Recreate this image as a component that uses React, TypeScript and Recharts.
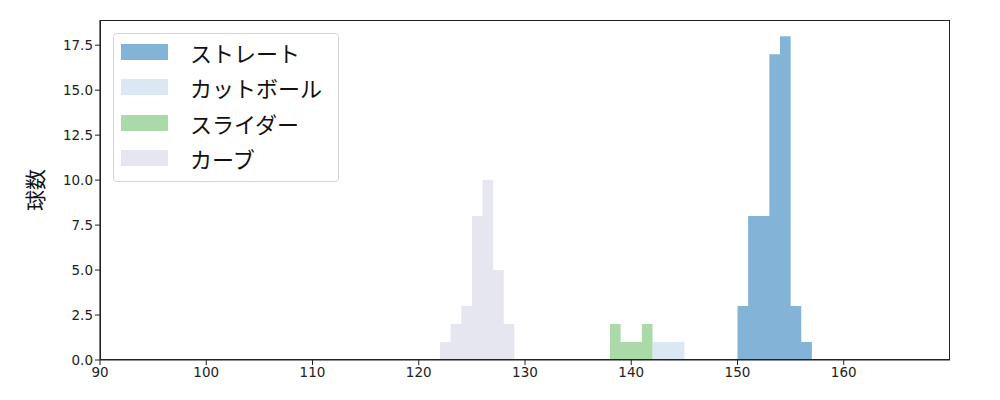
import { ComposedChart, Area, XAxis, YAxis, Legend } from 'recharts';

// bin edges (km/h) and pitch counts per bin
const straightBins = [150, 151, 152, 153, 154, 155, 156, 157];
const straightCounts = [3, 8, 8, 17, 18, 3, 1];

const cutterBins = [142, 143, 144, 145];
const cutterCounts = [1, 1, 1];

const sliderBins = [138, 139, 140, 141, 142];
const sliderCounts = [2, 1, 1, 2];

const curveBins = [122, 123, 124, 125, 126, 127, 128, 129];
const curveCounts = [1, 2, 3, 8, 10, 5, 2];

const xTicks = [90, 100, 110, 120, 130, 140, 150, 160];
const yTicks = [0, 2.5, 5, 7.5, 10, 12.5, 15, 17.5];

const pitchNames = ['ストレート', 'カットボール', 'スライダー', 'カーブ'];
const pitchColors = ['#84b3d8', '#dbe7f3', '#abdaa9', '#e6e6f0'];

// step series: each bin's count starts at its left edge, closes to 0 at the last edge
function toSteps(edges: number[], counts: number[]) {
  return edges.map((x, i) => ({ x, y: i < counts.length ? counts[i] : 0 }));
}

const series = [
  { name: pitchNames[0], color: pitchColors[0], data: toSteps(straightBins, straightCounts) },
  { name: pitchNames[1], color: pitchColors[1], data: toSteps(cutterBins, cutterCounts) },
  { name: pitchNames[2], color: pitchColors[2], data: toSteps(sliderBins, sliderCounts) },
  { name: pitchNames[3], color: pitchColors[3], data: toSteps(curveBins, curveCounts) },
];

const tickStyle = { fontSize: 13.5, fill: '#222', fontFamily: '"DejaVu Sans", sans-serif' };

function LegendBox() {
  return (
    <div
      style={{
        position: 'absolute',
        left: 113,
        top: 33,
        width: 226,
        height: 149,
        border: '1px solid #d4d4d4',
        borderRadius: 4,
        background: 'rgba(255,255,255,0.8)',
        boxSizing: 'border-box',
        fontFamily: '"Noto Sans CJK JP", sans-serif',
        fontSize: 22,
        color: '#111',
      }}
    >
      {pitchNames.map((name, i) => (
        <div
          key={name}
          style={{ position: 'absolute', left: 7, top: 9 + i * 35.3, height: 18, display: 'flex', alignItems: 'center' }}
        >
          <span style={{ display: 'inline-block', width: 47, height: 16, background: pitchColors[i] }} />
          <span style={{ marginLeft: 22, lineHeight: '18px' }}>{name}</span>
        </div>
      ))}
    </div>
  );
}

export default function App() {
  return (
    <div style={{ position: 'absolute', left: 0, top: 0, width: 1000, height: 400, background: '#fff' }}>
      <ComposedChart width={1000} height={400} margin={{ top: 20, right: 50, bottom: 10, left: 0 }}>
        <XAxis
          type="number"
          dataKey="x"
          domain={[90, 170]}
          ticks={xTicks}
          allowDataOverflow
          height={30}
          fontSize={13.5}
          tick={tickStyle}
          stroke="#222"
          tickLine={{ stroke: '#222' }}
          axisLine={{ stroke: '#222', strokeWidth: 1.2 }}
          tickSize={5}
        />
        <YAxis
          type="number"
          domain={[0, 18.9]}
          ticks={yTicks}
          allowDataOverflow
          width={100}
          fontSize={13.5}
          tick={tickStyle}
          stroke="#222"
          tickFormatter={(v: number) => v.toFixed(1)}
          tickLine={{ stroke: '#222' }}
          axisLine={{ stroke: '#222', strokeWidth: 1.2 }}
          tickSize={5}
          label={{
            value: '球数',
            angle: -90,
            position: 'insideLeft',
            offset: 36,
            textAnchor: 'middle',
            style: { fontSize: 21, fill: '#111', fontFamily: '"Noto Sans CJK JP", sans-serif', textAnchor: 'middle' },
          }}
        />
        {series.map((s) => (
          <Area
            key={s.name}
            data={s.data}
            dataKey="y"
            name={s.name}
            type="stepAfter"
            stroke="none"
            fill={s.color}
            fillOpacity={1}
            baseValue={0}
            dot={false}
            activeDot={false}
            isAnimationActive={false}
          />
        ))}
        <Legend content={() => null} />
      </ComposedChart>
      {/* matplotlib-style frame round the plot area */}
      <div
        style={{
          position: 'absolute',
          left: 100,
          top: 20,
          width: 850,
          height: 340,
          border: '1.2px solid #222',
          boxSizing: 'border-box',
          pointerEvents: 'none',
        }}
      />
      <LegendBox />
    </div>
  );
}
